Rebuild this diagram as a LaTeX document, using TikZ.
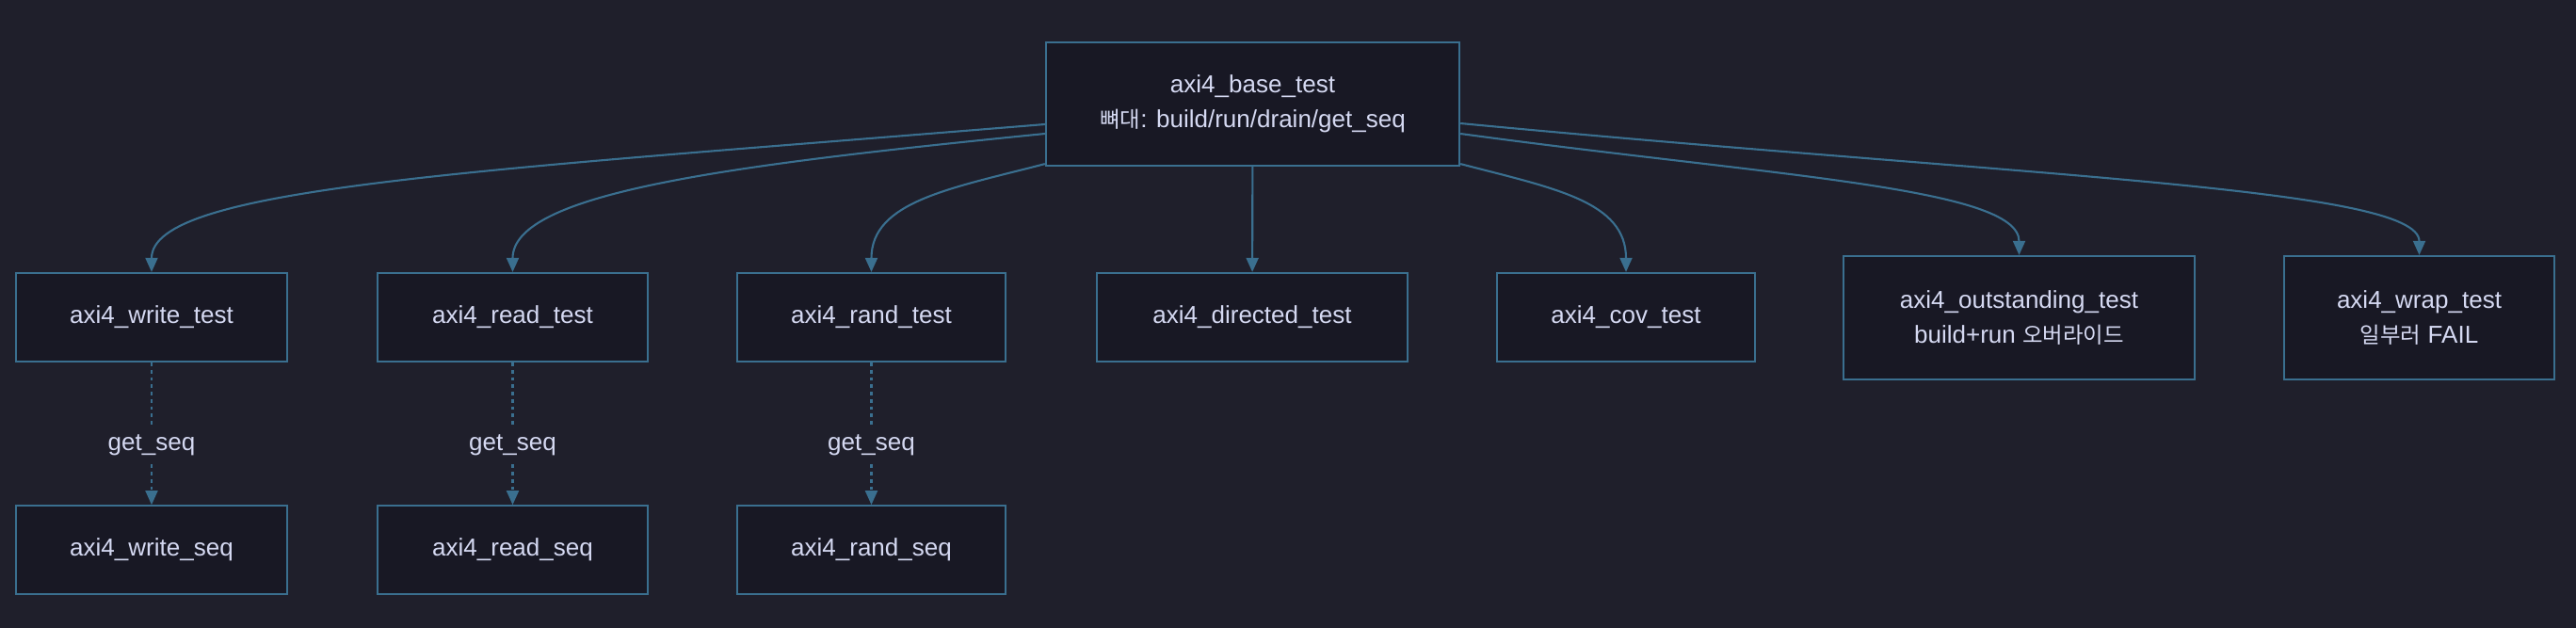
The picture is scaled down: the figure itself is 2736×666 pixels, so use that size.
\documentclass[tikz,border=0pt]{standalone}
\usepackage{fontspec}
\setmainfont{Liberation Sans}
\newfontfamily\krfont[Scale=0.9]{Noto Sans CJK KR}
\usepackage{tikz}
\usetikzlibrary{positioning}
\usetikzlibrary{arrows.meta}
\usetikzlibrary{calc}

\definecolor{bgc}{HTML}{1F1F2B}
\definecolor{boxfill}{HTML}{181824}
\definecolor{edgec}{HTML}{3A6F8F}
\definecolor{txtc}{HTML}{D5D9F2}

\begin{document}
\begin{tikzpicture}[x=0.01cm, y=-0.01cm,
        testbox/.style={draw=edgec, line width=0.6pt, fill=boxfill, text=txtc, align=center, minimum height=0.94cm, inner sep=2pt, font=\fontsize{7.4}{10.5}\selectfont},
        tallbox/.style={testbox, minimum height=1.31cm},
        link/.style={draw=edgec, line width=0.6pt, -{Triangle[length=4.3pt, width=3.7pt]}},
        seqlink/.style={link, dash pattern=on 1.1pt off 1.1pt},
        seqlabel/.style={fill=bgc, text=txtc, inner sep=2pt, font=\fontsize{7.4}{10.5}\selectfont}]
    \useasboundingbox (0,0) rectangle (2736,666);
    \fill[bgc] (-2,-2) rectangle (2738,668);
    \node[tallbox, minimum width=4.39cm] (base) at (1330.5,110.5) {axi4\_base\_test\\{\krfont 뼈대}: build/run/drain/get\_seq};
    \node[testbox, minimum width=2.88cm] (writetest) at (161,337) {axi4\_write\_test};
    \node[testbox, minimum width=2.87cm] (readtest) at (544.5,337) {axi4\_read\_test};
    \node[testbox, minimum width=2.85cm] (randtest) at (925.5,337) {axi4\_rand\_test};
    \node[testbox, minimum width=3.30cm] (directedtest) at (1330,337) {axi4\_directed\_test};
    \node[testbox, minimum width=2.74cm] (covtest) at (1727,337) {axi4\_cov\_test};
    \node[tallbox, minimum width=3.73cm] (outstandingtest) at (2144.5,337.5) {axi4\_outstanding\_test\\build+run {\krfont 오버라이드}};
    \node[tallbox, minimum width=2.87cm] (wraptest) at (2569.5,337.5) {axi4\_wrap\_test\\{\krfont 일부러} FAIL};
    \node[testbox, minimum width=2.88cm, below=1.51cm of writetest] (writeseq) {axi4\_write\_seq};
    \node[testbox, minimum width=2.87cm, below=1.51cm of readtest] (readseq) {axi4\_read\_seq};
    \node[testbox, minimum width=2.85cm, below=1.51cm of randtest] (randseq) {axi4\_rand\_seq};

    \draw[link] ($(base.west)+(0,21.5)$) .. controls +(-610,50) and +(0,-90) .. (writetest.north);
    \draw[link] ($(base.west)+(0,31.5)$) .. controls +(-330,33) and +(0,-85) .. (readtest.north);
    \draw[link] ($(base.south west)+(0,-3)$) .. controls +(-100,26) and +(0,-75) .. (randtest.north);
    \draw[link] (base) -- (directedtest);
    \draw[link] ($(base.south east)+(0,-3)$) .. controls +(100,26) and +(0,-75) .. (covtest.north);
    \draw[link] ($(base.east)+(0,31.5)$) .. controls +(330,45) and +(0,-72) .. (outstandingtest.north);
    \draw[link] ($(base.east)+(0,20.5)$) .. controls +(600,57) and +(0,-72) .. (wraptest.north);

    \draw[seqlink] (writetest) -- node[seqlabel, pos=0.58] {get\_seq} (writeseq);
    \draw[seqlink] (readtest) -- node[seqlabel, pos=0.58] {get\_seq} (readseq);
    \draw[seqlink] (randtest) -- node[seqlabel, pos=0.58] {get\_seq} (randseq);
\end{tikzpicture}
\end{document}
